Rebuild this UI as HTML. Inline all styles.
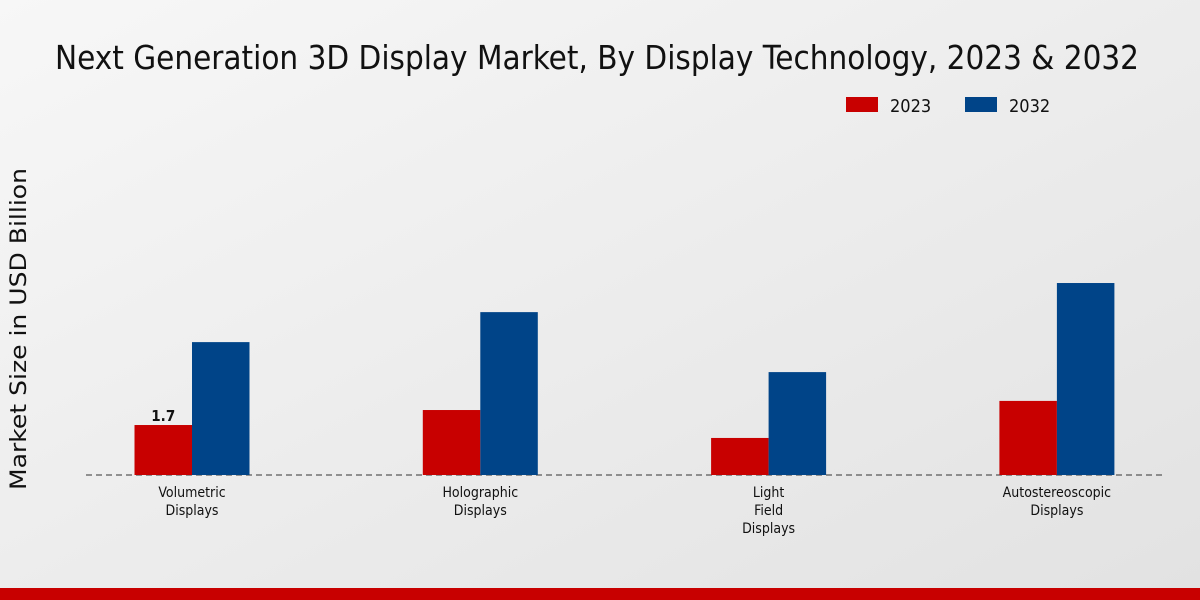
<!DOCTYPE html>
<html><head><meta charset="utf-8"><style>
body{margin:0;width:1200px;height:600px;overflow:hidden;}
svg{display:block}
text{font-family:"DejaVu Sans Condensed","DejaVu Sans","Liberation Sans",sans-serif}
</style></head><body>
<svg id="chart" width="1200" height="600">
<defs><linearGradient id="bg" x1="0" y1="0" x2="1" y2="1">
<stop offset="0" stop-color="#f7f7f7"/><stop offset="1" stop-color="#e2e2e2"/></linearGradient></defs>
<rect width="1200" height="600" fill="url(#bg)"/>
<text x="55" y="69" font-size="33" textLength="1084" lengthAdjust="spacingAndGlyphs" fill="#111">Next Generation 3D Display Market, By Display Technology, 2023 &amp; 2032</text>
<g>
<rect x="846" y="97" width="32" height="15" fill="#c80000"/>
<text x="890" y="112" font-size="18" fill="#111">2023</text>
<rect x="965" y="97" width="32" height="15" fill="#004488"/>
<text x="1009" y="112" font-size="18" fill="#111">2032</text>
</g>
<text transform="translate(26,329) rotate(-90)" font-size="22" text-anchor="middle" fill="#111" textLength="322" lengthAdjust="spacingAndGlyphs" style="font-family:'DejaVu Sans',sans-serif">Market Size in USD Billion</text>
<line x1="86" y1="475" x2="1163" y2="475" stroke="#333" stroke-dasharray="6,4" stroke-width="1"/>
<g id="bars"></g>
<rect x="0" y="588" width="1200" height="12" fill="#c80000"/>
</svg>
<script>
const categories=[["Volumetric","Displays"],["Holographic","Displays"],["Light","Field","Displays"],["Autostereoscopic","Displays"]];
const values2023=[1.7,2.21,1.26,2.52];
const values2032=[4.52,5.54,3.5,6.53];
const labels2023=["1.7","","",""];
const NS="http://www.w3.org/2000/svg";
const g=document.getElementById('bars');
const base=475, scale=29.4, x0=192, step=288.3, bw=57.5;
const y=v=>base-v*scale;
function mk(t,a){const e=document.createElementNS(NS,t);for(const k in a)e.setAttribute(k,a[k]);g.appendChild(e);return e;}
categories.forEach((c,i)=>{
 const cx=x0+i*step;
 const r1=mk('rect',{x:cx-bw,y:y(values2023[i]),width:bw,height:base-y(values2023[i]),fill:'#c80000'});
 
 
 const r2=mk('rect',{x:cx,y:y(values2032[i]),width:bw,height:base-y(values2032[i]),fill:'#004488'});
 
 
 if(labels2023[i]){const t=mk('text',{x:cx-bw/2,y:y(values2023[i])-4,'font-size':15,'font-weight':'bold','text-anchor':'middle',fill:'#111'});t.textContent=labels2023[i];
 
 }
 c.forEach((ln,j)=>{const t=mk('text',{x:cx,y:497+j*18,'font-size':14,'text-anchor':'middle',fill:'#111'});t.textContent=ln;
 
 });
});
</script>
</body></html>
